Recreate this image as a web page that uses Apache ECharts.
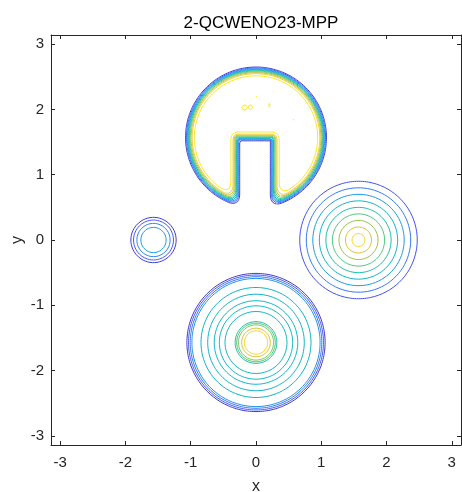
<!DOCTYPE html>
<html>
<head>
<meta charset="utf-8">
<script src="https://cdn.jsdelivr.net/npm/echarts@6/dist/echarts.min.js"></script>
<style>
  html, body { margin: 0; padding: 0; background: #fff; }
  #chart { width: 462px; height: 492px; }
</style>
</head>
<body>
<div id="chart"></div>
<script>
const PI = Math.PI;

// Axis ticks
const xTicks = [-3, -2, -1, 0, 1, 2, 3];
const yTicks = [-3, -2, -1, 0, 1, 2, 3];

// Cone centred at (pi/2, 0): ring radii and their contour levels
const coneCenter = [PI / 2, 0];
const coneRadii  = [0.90, 0.80, 0.70, 0.60, 0.50, 0.40, 0.30, 0.20, 0.10];
const coneLevels = [0.10, 0.20, 0.30, 0.40, 0.50, 0.60, 0.70, 0.80, 0.90];

// Hump centred at (0, -pi/2)
const humpCenter = [0, -PI / 2];
const humpRadii  = [1.059, 1.034, 1.008, 0.982, 0.843, 0.740, 0.640, 0.562, 0.475, 0.320, 0.296, 0.270, 0.220, 0.180];
const humpLevels = [0.04, 0.12, 0.20, 0.27, 0.40, 0.41, 0.42, 0.43, 0.44, 0.52, 0.60, 0.66, 0.80, 0.90];

// Small bump centred at (-pi/2, 0)
const bumpCenter = [-PI / 2, 0];
const bumpRadii  = [0.347, 0.306, 0.255, 0.194];
const bumpLevels = [0.05, 0.12, 0.22, 0.32];

// Slotted disc centred at (0, pi/2)
const discCenter = [0, PI / 2];
const discRadius = 1.0;
const slotX = [-0.33, 0.30];
const slotTop = 1.60;
const discLevels  = [0.05, 0.15, 0.25, 0.35, 0.45, 0.55, 0.65, 0.75, 0.85, 0.95];
const discOffsets = [0.080, 0.066, 0.054, 0.043, 0.032, 0.021, 0.008, -0.006, -0.022, -0.055];

// Small spurious loops inside the disc: [cx, cy, rx, ry]
const specks = [
  [-0.175, 2.030, 0.045, 0.040],
  [-0.085, 2.035, 0.035, 0.035],
  [0.207, 2.058, 0.012, 0.035],
  [0.003, 2.197, 0.010, 0.010],
  [0.574, 1.840, 0.010, 0.010]
];
const speckLevel = 0.95;

// parula colour map anchors
const parulaStops = [
  [0.000, [0.2422, 0.1504, 0.6603]],
  [0.063, [0.2691, 0.2577, 0.8716]],
  [0.143, [0.2760, 0.3893, 0.9873]],
  [0.238, [0.1707, 0.5406, 0.9571]],
  [0.302, [0.1176, 0.6072, 0.8853]],
  [0.365, [0.0695, 0.6824, 0.8388]],
  [0.492, [0.0753, 0.7497, 0.6930]],
  [0.619, [0.3507, 0.7926, 0.4530]],
  [0.746, [0.7591, 0.7502, 0.2218]],
  [0.873, [0.9904, 0.7978, 0.2043]],
  [1.000, [0.9763, 0.9831, 0.0538]]
];
function parula(t) {
  t = Math.max(0, Math.min(1, t));
  for (let i = 1; i < parulaStops.length; i++) {
    const [t1, c1] = parulaStops[i];
    const [t0, c0] = parulaStops[i - 1];
    if (t <= t1) {
      const u = (t - t0) / (t1 - t0);
      const c = c0.map((v, k) => Math.round(255 * (v + (c1[k] - v) * u)));
      return 'rgb(' + c.join(',') + ')';
    }
  }
  return 'rgb(249,251,14)';
}

function ellipse(cx, cy, rx, ry, n) {
  const pts = [];
  for (let i = 0; i <= n; i++) {
    const a = 2 * PI * i / n;
    pts.push([cx + rx * Math.cos(a), cy + ry * Math.sin(a)]);
  }
  return pts;
}

// Signed distance to the slotted disc (negative inside), corners softened
function smax(a, b, k) {
  const h = Math.max(0, Math.min(1, 0.5 + 0.5 * (a - b) / k));
  return b + (a - b) * h + k * h * (1 - h);
}
function discField(x, y) {
  const dCirc = Math.hypot(x - discCenter[0], y - discCenter[1]) - discRadius;
  const cx = (slotX[0] + slotX[1]) / 2, hw = (slotX[1] - slotX[0]) / 2;
  const bottom = discCenter[1] - discRadius - 0.5;
  const cy = (slotTop + bottom) / 2, hh = (slotTop - bottom) / 2;
  const r = 0.05;
  const qx = Math.abs(x - cx) - (hw - r), qy = Math.abs(y - cy) - (hh - r);
  const dBox = Math.hypot(Math.max(qx, 0), Math.max(qy, 0)) + Math.min(Math.max(qx, qy), 0) - r;
  return smax(dCirc, -dBox, 0.18);
}

// Marching squares: returns closed polylines of field == lev
function traceContour(field, x0, y0, h, nx, ny, lev) {
  const W = nx + 1;
  const pts = new Map();
  const adj = new Map();
  const edgePt = (key, xa, ya, va, xb, yb, vb) => {
    if (!pts.has(key)) {
      const t = (lev - va) / (vb - va);
      pts.set(key, [xa + (xb - xa) * t, ya + (yb - ya) * t]);
    }
    return key;
  };
  const link = (a, b) => {
    if (!adj.has(a)) adj.set(a, []);
    if (!adj.has(b)) adj.set(b, []);
    adj.get(a).push(b); adj.get(b).push(a);
  };
  for (let j = 0; j < ny; j++) {
    for (let i = 0; i < nx; i++) {
      const v0 = field[j * W + i], v1 = field[j * W + i + 1];
      const v2 = field[(j + 1) * W + i + 1], v3 = field[(j + 1) * W + i];
      const a0 = v0 > lev, a1 = v1 > lev, a2 = v2 > lev, a3 = v3 > lev;
      if (a0 === a1 && a1 === a2 && a2 === a3) continue;
      const xL = x0 + i * h, xR = xL + h, yB = y0 + j * h, yT = yB + h;
      const E = [];
      if (a0 !== a1) E.push(edgePt('h' + i + ',' + j, xL, yB, v0, xR, yB, v1));
      if (a1 !== a2) E.push(edgePt('v' + (i + 1) + ',' + j, xR, yB, v1, xR, yT, v2));
      if (a3 !== a2) E.push(edgePt('h' + i + ',' + (j + 1), xL, yT, v3, xR, yT, v2));
      if (a0 !== a3) E.push(edgePt('v' + i + ',' + j, xL, yB, v0, xL, yT, v3));
      if (E.length === 2) link(E[0], E[1]);
      else if (E.length === 4) { link(E[0], E[3]); link(E[1], E[2]); }
    }
  }
  const used = new Set();
  const lines = [];
  for (const start of adj.keys()) {
    if (used.has(start)) continue;
    used.add(start);
    const line = [pts.get(start)];
    let cur = start;
    while (true) {
      const nb = adj.get(cur).find(k => !used.has(k));
      if (nb === undefined) {
        if (adj.get(cur).includes(start) && line.length > 2) line.push(pts.get(start));
        break;
      }
      used.add(nb); line.push(pts.get(nb)); cur = nb;
    }
    if (line.length > 2) lines.push(line);
  }
  return lines;
}

const series = [];
function addLine(points, level) {
  series.push({
    type: 'line',
    data: points,
    showSymbol: false,
    smooth: false,
    silent: true,
    clip: true,
    lineStyle: { color: parula(level), width: 1 },
    z: 2 + level
  });
}

// Slotted disc contours
(function () {
  const x0 = -1.3, y0 = 0.2, h = 0.008, nx = 325, ny = 338;
  const field = new Float64Array((nx + 1) * (ny + 1));
  for (let j = 0; j <= ny; j++)
    for (let i = 0; i <= nx; i++)
      field[j * (nx + 1) + i] = discField(x0 + i * h, y0 + j * h);
  discLevels.forEach((lv, k) => {
    traceContour(field, x0, y0, h, nx, ny, discOffsets[k]).forEach(l => addLine(l, lv));
  });
})();

coneRadii.forEach((r, k) => addLine(ellipse(coneCenter[0], coneCenter[1], r, r, 180), coneLevels[k]));
humpRadii.forEach((r, k) => addLine(ellipse(humpCenter[0], humpCenter[1], r, r, 200), humpLevels[k]));
bumpRadii.forEach((r, k) => addLine(ellipse(bumpCenter[0], bumpCenter[1], r, r, 120), bumpLevels[k]));
specks.forEach(s => addLine(ellipse(s[0], s[1], s[2], s[3], 40), speckLevel));

const axisColor = '#262626';
const font = "'Liberation Sans', Arial, Helvetica, sans-serif";

function makeAxis(pos, ticks, showLabel, name, extra) {
  return Object.assign({
    type: 'value',
    position: pos,
    min: -PI,
    max: PI,
    axisLine: { show: true, onZero: false, lineStyle: { color: axisColor, width: 1 } },
    axisTick: { show: true, inside: true, length: 4, customValues: ticks, lineStyle: { color: axisColor, width: 1 } },
    axisLabel: {
      show: showLabel, customValues: ticks, color: axisColor,
      fontFamily: font, fontSize: 15
    },
    splitLine: { show: false },
    name: name,
    nameLocation: 'middle',
    nameMoveOverlap: false,
    nameTextStyle: { color: axisColor, fontFamily: font, fontSize: 16 }
  }, extra || {});
}

const chart = echarts.init(document.getElementById('chart'), null, { renderer: 'canvas' });
chart.setOption({
  animation: false,
  backgroundColor: '#ffffff',
  title: {
    text: '2-QCWENO23-MPP',
    left: 256, top: 10, textAlign: 'center',
    textStyle: { fontFamily: font, fontSize: 17, fontWeight: 'normal', color: '#000' }
  },
  grid: { left: 51, right: 1, top: 35, bottom: 47, containLabel: false, outerBoundsMode: 'none' },
  xAxis: [
    makeAxis('bottom', xTicks, true, 'x', { nameGap: 34, axisLabel: { customValues: xTicks, color: axisColor, fontFamily: font, fontSize: 15, margin: 10 } }),
    makeAxis('top', xTicks, false, '', {})
  ],
  yAxis: [
    makeAxis('left', yTicks, true, 'y', { nameGap: 25, axisLabel: { customValues: yTicks, color: axisColor, fontFamily: font, fontSize: 15, margin: 7 } }),
    makeAxis('right', yTicks, false, '', {})
  ],
  series: series
});
</script>
</body>
</html>
